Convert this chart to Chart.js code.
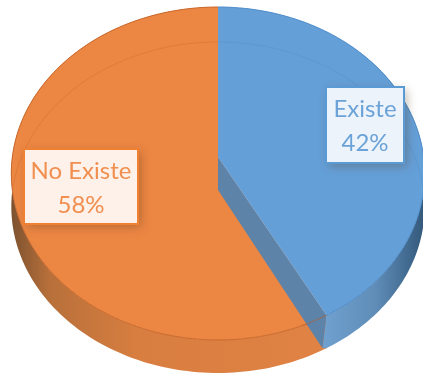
<!DOCTYPE html>
<html>
<head>
<meta charset="utf-8">
<style>
	html, body { margin: 0; background: #fff; overflow: hidden; }
	canvas { display: block; }
</style>
</head>
<body>
<canvas id="grafico" width="423" height="373"></canvas>
<script src="https://cdn.jsdelivr.net/npm/chart.js@4"></script>
<script>
	const categorias = ["Existe", "No Existe"];
	const valores = [42, 58];

	const coresTopo = ["#659fd7", "#ec8643"];
	const coresBorda = ["#4f8dcb", "#c8682c"];
	const coresTexto = ["#6ba3d9", "#f08f4f"];
	const coresFundo = ["#edf3fa", "#fdf1ea"];
	const coresMolde = ["#5b9bd5", "#f08133"];
	const coresParede = [
		[[0, "#6f9fcd"], [0.5, "#5f8db8"], [1, "#33587a"]],
		[[0, "#7d5230"], [0.12, "#b8703a"], [0.4, "#d87e40"], [1, "#e08344"]]
	];

	// perspectiva do disco e altura da parede, em pixels de tela
	const escalaX = 1.31;
	const escalaY = 1.05;
	const fuga = 0.099;
	const altura = 33;
	const anel = 35;
	const recuo = 4;

	const projeta = (arco, angulo, desloca = 0) => {
		const x = Math.cos(angulo);
		const y = Math.sin(angulo);
		const d = 1 - fuga * y;
		return [
			arco.x + escalaX * arco.outerRadius * x / d,
			arco.y + escalaY * arco.outerRadius * y / d + desloca
		];
	};

	const trajeto = (ctx, arco, inicio, fim, desloca = 0) => {
		const passos = 160;
		for (let i = 0; i <= passos; i++) {
			const [x, y] = projeta(arco, inicio + (fim - inicio) * i / passos, desloca);
			ctx.lineTo(x, y);
		}
	};

	const desenhaParede = (ctx, arco, indice) => {
		const { startAngle: ini, endAngle: fim } = arco;
		const bordas = [];
		for (let i = 0; i <= 160; i++) {
			const a = ini + (fim - ini) * i / 160;
			bordas.push(projeta(arco, a)[0]);
		}
		const xs = indice === 0 ? [projeta(arco, fim)[0], Math.max(...bordas)] : [Math.min(...bordas), arco.x + 110];
		const grad = ctx.createLinearGradient(xs[0], 0, xs[1], 0);
		coresParede[indice].forEach(([p, c]) => grad.addColorStop(p, c));

		ctx.beginPath();
		trajeto(ctx, arco, ini, fim);
		// o canto azul acompanha a face cortada, o laranja fica por baixo dela
		const [px, py] = projeta(arco, fim, altura);
		ctx.lineTo(indice === 0 ? px - recuo : px, py);
		trajeto(ctx, arco, fim, ini, altura);
		ctx.closePath();
		ctx.fillStyle = grad;
		ctx.fill();
	};

	const desenhaFace = (ctx, arco) => {
		const [px, py] = projeta(arco, arco.endAngle);
		ctx.beginPath();
		ctx.moveTo(arco.x, arco.y);
		ctx.lineTo(px, py);
		ctx.lineTo(px - recuo, py + altura);
		ctx.lineTo(arco.x, arco.y + altura);
		ctx.closePath();
		ctx.fillStyle = "#5d83a9";
		ctx.fill();
	};

	const desenhaTopo = (ctx, arco, indice) => {
		const cheio = () => {
			ctx.beginPath();
			ctx.moveTo(arco.x, arco.y);
			trajeto(ctx, arco, arco.startAngle, arco.endAngle);
			ctx.closePath();
		};

		cheio();
		ctx.fillStyle = arco.options.backgroundColor;
		ctx.fill();

		// contorno do fundo aparecendo pelo topo
		ctx.save();
		cheio();
		ctx.clip();
		ctx.beginPath();
		trajeto(ctx, arco, arco.startAngle, arco.endAngle, anel);
		ctx.strokeStyle = coresBorda[indice];
		ctx.globalAlpha = 0.35;
		ctx.lineWidth = 1;
		ctx.stroke();
		ctx.restore();

		ctx.beginPath();
		trajeto(ctx, arco, arco.startAngle, arco.endAngle);
		ctx.strokeStyle = coresBorda[indice];
		ctx.lineWidth = 1;
		ctx.stroke();
	};

	const pizzaInclinada = {
		id: "pizzaInclinada",
		beforeDatasetDraw(chart, args) {
			const ctx = chart.ctx;
			const [azul, laranja] = args.meta.data;

			ctx.save();
			desenhaParede(ctx, laranja, 1);
			desenhaTopo(ctx, laranja, 1);

			// linha do topo laranja vista atraves da face cortada
			desenhaParede(ctx, azul, 0);
			desenhaFace(ctx, azul);
			ctx.beginPath();
			trajeto(ctx, laranja, laranja.startAngle, laranja.startAngle + 0.12);
			ctx.strokeStyle = "#b5683a";
			ctx.lineWidth = 1;
			ctx.stroke();
			desenhaTopo(ctx, azul, 0);
			ctx.restore();
			return false;
		}
	};

	const caixas = [
		{ x: 326, y: 87, w: 78, h: 76 },
		{ x: 24, y: 149, w: 114, h: 75 }
	];

	const rotulos = {
		id: "rotulos",
		afterDatasetsDraw(chart) {
			const ctx = chart.ctx;
			ctx.save();
			categorias.forEach((nome, i) => {
				const c = caixas[i];
				ctx.save();
				ctx.shadowColor = "rgba(90, 60, 30, 0.35)";
				ctx.shadowBlur = 9;
				ctx.shadowOffsetX = 3;
				ctx.shadowOffsetY = 3;
				ctx.fillStyle = coresFundo[i];
				ctx.fillRect(c.x, c.y, c.w, c.h);
				ctx.restore();
				ctx.strokeStyle = coresMolde[i];
				ctx.lineWidth = 2;
				ctx.strokeRect(c.x, c.y, c.w, c.h);

				ctx.fillStyle = coresTexto[i];
				ctx.font = "24px Lato";
				ctx.textAlign = "center";
				ctx.textBaseline = "middle";
				ctx.fillText(nome, c.x + c.w / 2, c.y + 22);
				ctx.fillText(valores[i] + "%", c.x + c.w / 2, c.y + 56);
			});
			ctx.restore();
		}
	};

	new Chart("grafico", {
		type: "pie",
		data: {
			labels: categorias,
			datasets: [{
				backgroundColor: coresTopo,
				borderWidth: 0,
				data: valores
			}]
		},
		options: {
			responsive: false,
			animation: false,
			layout: { padding: { left: 13, bottom: 59 } },
			plugins: {
				legend: { display: false },
				tooltip: { enabled: false }
			}
		},
		plugins: [pizzaInclinada, rotulos]
	});
</script>
</body>
</html>
